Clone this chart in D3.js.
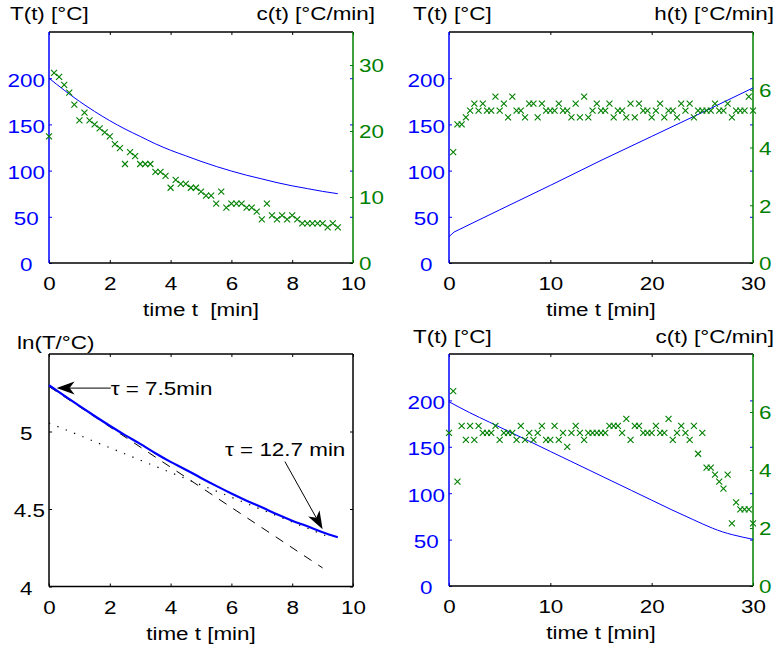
<!DOCTYPE html>
<html><head><meta charset="utf-8">
<script src="https://cdn.jsdelivr.net/npm/d3@7/dist/d3.min.js"></script>
<style>
html,body{margin:0;padding:0;background:#fff;}
svg text{font-family:"Liberation Sans",Arial,Helvetica,sans-serif;font-size:19px;white-space:pre;}
</style></head><body>
<svg id="chart" width="776" height="648"></svg>
<script>
// ---------------- DATA ----------------
// Panel 1 (cooling): temperature curve
const coolTempTime = [0,0.5,1,1.5,2,2.5,3,3.5,4,4.5,5,5.5,6,6.5,7,7.5,8,8.5,9,9.5];
const coolTemp     = [200,187,175,164,154,145,137,129,122,116,110,104.5,99.5,95,91,87,83.5,80.5,77.5,75];
// Panel 1: cooling rate c(t), sampled every 10 s
const coolRateSec = [0,10,20,30,40,50,60,70,80,90,100,110,120,130,140,150,160,170,180,190,200,210,220,230,240,250,260,270,280,290,300,310,320,330,340,350,360,370,380,390,400,410,420,430,440,450,460,470,480,490,500,510,520,530,540,550,560,570];
const coolRate = [19.2,28.8,28.2,27.0,25.8,24.0,21.6,22.8,21.6,21.0,20.4,19.8,19.2,18.0,17.4,15.0,16.8,16.2,15.0,15.0,15.0,13.8,13.8,13.2,11.4,12.6,12.0,12.0,11.4,11.4,10.8,10.2,10.2,9.0,10.8,8.4,9.0,9.0,9.0,8.4,8.4,7.8,6.6,9.0,7.2,6.6,7.2,6.6,7.2,6.6,6.0,6.0,6.0,6.0,6.0,5.4,6.0,5.4];

// Panel 2 (heating): temperature curve
const heatTempTime = [0,0.5,5,10,15,20,25,30];
const heatTemp     = [28.5,33.5,57.5,84,111,137,163,189.5];
// Panel 2: heating rate h(t), sampled every 25 s
const heatRateSec = [25,50,75,100,125,150,175,200,225,250,275,300,325,350,375,400,425,450,475,500,525,550,575,600,625,650,675,700,725,750,775,800,825,850,875,900,925,950,975,1000,1025,1050,1075,1100,1125,1150,1175,1200,1225,1250,1275,1300,1325,1350,1375,1400,1425,1450,1475,1500,1525,1550,1575,1600,1625,1650,1675,1700,1725,1750,1775,1800];
const heatRate = [3.84,4.80,4.80,5.04,5.28,5.52,5.28,5.52,5.28,5.28,5.76,5.28,5.52,5.04,5.76,5.28,5.28,5.04,5.52,5.52,5.04,5.52,5.28,5.28,5.28,5.52,5.28,5.28,5.04,5.52,5.04,5.76,5.04,5.28,5.52,5.28,5.28,5.52,5.04,5.28,5.28,5.04,5.52,5.04,5.52,5.28,5.28,5.04,5.28,5.52,5.04,5.28,5.28,5.04,5.52,5.28,5.52,5.04,5.28,5.28,5.28,5.28,5.52,5.28,5.28,5.52,5.04,5.28,5.28,5.28,5.76,5.28];

// Panel 3: tangent lines on ln(T)
const tangentFastTime = [0, 9.0];
const tangentFastLn   = [5.29, 4.12];
const tangentSlowTime = [0, 9.2];
const tangentSlowLn   = [5.055, 4.32];
const tauLabels = ["\u03c4 = 7.5min", "\u03c4 = 12.7 min"];

// Panel 4 (controlled cooling): temperature curve
const ctrlTempTime = [0,1,2,4,6,8,10,12,14,16,18,20,22,24,25,26,27,28,29,30];
const ctrlTemp     = [198.5,192.7,187,176.5,166,155.6,145,134.5,124,113.5,103,92.5,82,72,67,62.3,58.3,55.2,52.6,50.3];
// Panel 4: cooling rate c(t), sampled every 25 s
const ctrlRateSec = [0,25,50,75,100,125,150,175,200,225,250,275,300,325,350,375,400,425,450,475,500,525,550,575,600,625,650,675,700,725,750,775,800,825,850,875,900,925,950,975,1000,1025,1050,1075,1100,1125,1150,1175,1200,1225,1250,1275,1300,1325,1350,1375,1400,1425,1450,1475,1500,1525,1550,1575,1600,1625,1650,1675,1700,1725,1750,1775,1800];
const ctrlRate = [5.28,6.72,3.60,5.52,5.04,5.52,5.04,5.52,5.28,5.28,5.28,5.52,5.04,5.28,5.28,5.28,5.04,5.52,5.04,5.28,5.04,5.28,5.52,5.04,5.04,5.52,5.04,5.28,4.80,5.28,5.52,5.28,5.04,5.28,5.28,5.28,5.28,5.28,5.52,5.52,5.52,5.28,5.76,5.04,5.52,5.52,5.28,5.28,5.28,5.52,5.28,5.28,5.76,5.04,5.28,5.52,5.28,5.04,5.52,4.56,5.28,4.08,4.08,3.84,3.60,3.36,3.84,2.16,2.88,2.64,2.64,2.64,2.16];

// Ticks
const xTicksShort = [0,2,4,6,8,10];
const xTicksLong  = [0,10,20,30];
const tempTicks   = [0,50,100,150,200];
const coolRateTicks = [0,10,20,30];
const smallRateTicks = [0,2,4,6];
const lnTicks = [4,4.5,5];

// ---------------- DRAWING ----------------
const BLUE = "#0000ff", GREEN = "#008000", BLACK = "#000";
const SX = 1.18;
const svg = d3.select("#chart");

function stretch(sel){
  sel.each(function(){
    const t = d3.select(this);
    const x = +t.attr("x") || 0, y = +t.attr("y") || 0;
    t.attr("x", null).attr("y", null).attr("transform", `translate(${x},${y}) scale(${SX},1)`);
  });
}
function label(g, x, y, str, anchor, color){
  return g.append("text").attr("transform", `translate(${x},${y}) scale(${SX},1)`)
    .attr("text-anchor", anchor).attr("fill", color || BLACK).text(str);
}
function padFmt(ticks){
  const strs = ticks.map(String);
  const n = d3.max(strs, s => s.length);
  return d => String(d).padEnd(n, " ");
}

function panel(p){
  const g = svg.append("g");
  const x = d3.scaleLinear().domain(p.xDomain).range([p.left, p.right]);
  const yL = d3.scaleLinear().domain(p.yLDomain).range([p.bottom, p.top]);
  const yR = p.yRDomain ? d3.scaleLinear().domain(p.yRDomain).range([p.bottom, p.top]) : null;

  // bottom axis
  const gb = g.append("g").attr("transform", `translate(0,${p.bottom})`)
    .call(d3.axisBottom(x).tickValues(p.xTicks).tickSizeInner(-3).tickSizeOuter(0));
  gb.select(".domain").remove();
  gb.selectAll("line").attr("stroke", BLACK);
  gb.selectAll("text").attr("y", 27).attr("dy", null).attr("fill", BLACK).attr("font-size", null);
  stretch(gb.selectAll("text"));
  // top mirror ticks
  const gt = g.append("g").attr("transform", `translate(0,${p.top})`)
    .call(d3.axisTop(x).tickValues(p.xTicks).tickSizeInner(-3).tickSizeOuter(0).tickFormat(""));
  gt.select(".domain").remove();
  gt.selectAll("line").attr("stroke", BLACK);
  // left axis
  const gl = g.append("g").attr("transform", `translate(${p.left},0)`)
    .call(d3.axisLeft(yL).tickValues(p.yLTicks).tickSizeInner(-3).tickSizeOuter(0).tickFormat(padFmt(p.yLTicks)));
  gl.select(".domain").remove();
  gl.selectAll("line").attr("stroke", p.leftColor);
  gl.selectAll("text").attr("x", -4).attr("dy", "0.42em").attr("fill", p.leftColor).attr("font-size", null);
  stretch(gl.selectAll("text"));
  // right mirror of left ticks
  const gm = g.append("g").attr("transform", `translate(${p.right},0)`)
    .call(d3.axisRight(yL).tickValues(p.yLTicks).tickSizeInner(-3).tickSizeOuter(0).tickFormat(""));
  gm.select(".domain").remove();
  gm.selectAll("line").attr("stroke", p.leftColor);
  if (yR){
    const gr = g.append("g").attr("transform", `translate(${p.right},0)`)
      .call(d3.axisRight(yR).tickValues(p.yRTicks).tickSizeInner(-3).tickSizeOuter(0));
    gr.select(".domain").remove();
    gr.selectAll("line").attr("stroke", GREEN);
    gr.selectAll("text").attr("x", 6).attr("dy", "0.36em").attr("fill", GREEN).attr("font-size", null);
    stretch(gr.selectAll("text"));
  }
  // box
  g.append("line").attr("x1", p.left).attr("x2", p.right).attr("y1", p.top).attr("y2", p.top).attr("stroke", BLACK).attr("stroke-width", 1.3);
  g.append("line").attr("x1", p.left).attr("x2", p.right).attr("y1", p.bottom).attr("y2", p.bottom).attr("stroke", BLACK).attr("stroke-width", 1.3);
  g.append("line").attr("x1", p.left).attr("x2", p.left).attr("y1", p.top).attr("y2", p.bottom).attr("stroke", p.leftColor).attr("stroke-width", 1.5);
  g.append("line").attr("x1", p.right).attr("x2", p.right).attr("y1", p.top).attr("y2", p.bottom).attr("stroke", yR ? GREEN : BLACK).attr("stroke-width", 1.5);

  // axis labels
  label(g, (p.left + p.right)/2, p.bottom + 53, p.xLabel, "middle");
  label(g, p.titleLX, p.titleY, p.titleL, "start");
  if (p.titleR) label(g, p.titleRX, p.titleY, p.titleR, "end");
  return {g, x, yL, yR};
}

function drawLine(g, xs, ys, xS, yS, color, width, dash, curve){
  const pts = xs.map((v, i) => [xS(v), yS(ys[i])]);
  g.append("path").attr("d", d3.line().curve(curve || d3.curveLinear)(pts))
    .attr("fill", "none").attr("stroke", color).attr("stroke-width", width)
    .attr("stroke-dasharray", dash || null);
}
function drawCrosses(g, xs, ys, xS, yS){
  g.append("g").selectAll("path").data(xs).join("path")
    .attr("transform", (d, i) => `translate(${xS(d)},${yS(ys[i])})`)
    .attr("d", "M-3,-3L3,3M-3,3L3,-3")
    .attr("stroke", GREEN).attr("stroke-width", 1.1).attr("fill", "none");
}
const toMin = s => s / 60;

// Panel 1
const P1 = panel({left:49, right:353, top:32, bottom:263, xDomain:[0,10], xTicks:xTicksShort,
  yLDomain:[0,250], yLTicks:tempTicks, leftColor:BLUE, yRDomain:[0,35], yRTicks:coolRateTicks,
  xLabel:"time t  [min]", titleL:"T(t) [\u00b0C]", titleR:"c(t) [\u00b0C/min]", titleLX:10, titleRX:375, titleY:20});
drawLine(P1.g, coolTempTime, coolTemp, P1.x, P1.yL, BLUE, 1, null, d3.curveMonotoneX);
drawCrosses(P1.g, coolRateSec.map(toMin), coolRate, P1.x, P1.yR);

// Panel 2
const P2 = panel({left:449, right:753, top:32, bottom:263, xDomain:[0,30], xTicks:xTicksLong,
  yLDomain:[0,250], yLTicks:tempTicks, leftColor:BLUE, yRDomain:[0,8], yRTicks:smallRateTicks,
  xLabel:"time t [min]", titleL:"T(t) [\u00b0C]", titleR:"h(t) [\u00b0C/min]", titleLX:413, titleRX:774, titleY:20});
drawLine(P2.g, heatTempTime, heatTemp, P2.x, P2.yL, BLUE, 1);
drawCrosses(P2.g, heatRateSec.map(toMin), heatRate, P2.x, P2.yR);

// Panel 3
const P3 = panel({left:49, right:353, top:354, bottom:586.5, xDomain:[0,10], xTicks:xTicksShort,
  yLDomain:[4,5.5], yLTicks:lnTicks, leftColor:BLACK, yRDomain:null,
  xLabel:"time t [min]", titleL:"ln(T/\u00b0C)", titleR:null, titleLX:17, titleY:349});
drawLine(P3.g, tangentSlowTime, tangentSlowLn, P3.x, P3.yL, BLACK, 1.2, "1.3,7.7");
drawLine(P3.g, tangentFastTime, tangentFastLn, P3.x, P3.yL, BLACK, 1, "9,8");
drawLine(P3.g, coolTempTime, coolTemp.map(v => Math.log(v)), P3.x, P3.yL, BLUE, 2.2, null, d3.curveMonotoneX);

function arrow(g, from, tip){
  const dx = tip[0]-from[0], dy = tip[1]-from[1], len = Math.hypot(dx, dy);
  const ux = dx/len, uy = dy/len, nx = -uy, ny = ux;
  const L = 18, W = 13, notch = 5;
  const bx = tip[0]-ux*L, by = tip[1]-uy*L;
  const mx = tip[0]-ux*(L-notch), my = tip[1]-uy*(L-notch);
  g.append("line").attr("x1", from[0]).attr("y1", from[1]).attr("x2", mx).attr("y2", my).attr("stroke", BLACK).attr("stroke-width", 1);
  g.append("path").attr("d", `M${tip[0]},${tip[1]}L${bx+nx*W/2},${by+ny*W/2}L${mx},${my}L${bx-nx*W/2},${by-ny*W/2}Z`).attr("fill", BLACK);
}
// annotation 1
arrow(P3.g, [P3.x(2.03), P3.yL(5.28)], [P3.x(0.25), P3.yL(5.28)]);
label(P3.g, P3.x(2.03), P3.yL(5.28) + 7, tauLabels[0], "start");
// annotation 2
arrow(P3.g, [P3.x(7.76), P3.yL(4.806)], [P3.x(9.0), P3.yL(4.37)]);
label(P3.g, P3.x(5.79), P3.yL(4.843), tauLabels[1], "start");

// Panel 4
const P4 = panel({left:449, right:753, top:354, bottom:586, xDomain:[0,30], xTicks:xTicksLong,
  yLDomain:[0,250], yLTicks:tempTicks, leftColor:BLUE, yRDomain:[0,8], yRTicks:smallRateTicks,
  xLabel:"time t [min]", titleL:"T(t) [\u00b0C]", titleR:"c(t) [\u00b0C/min]", titleLX:413, titleRX:774, titleY:343});
drawLine(P4.g, ctrlTempTime, ctrlTemp, P4.x, P4.yL, BLUE, 1, null, d3.curveMonotoneX);
drawCrosses(P4.g, ctrlRateSec.map(toMin), ctrlRate, P4.x, P4.yR);
</script>
</body></html>
